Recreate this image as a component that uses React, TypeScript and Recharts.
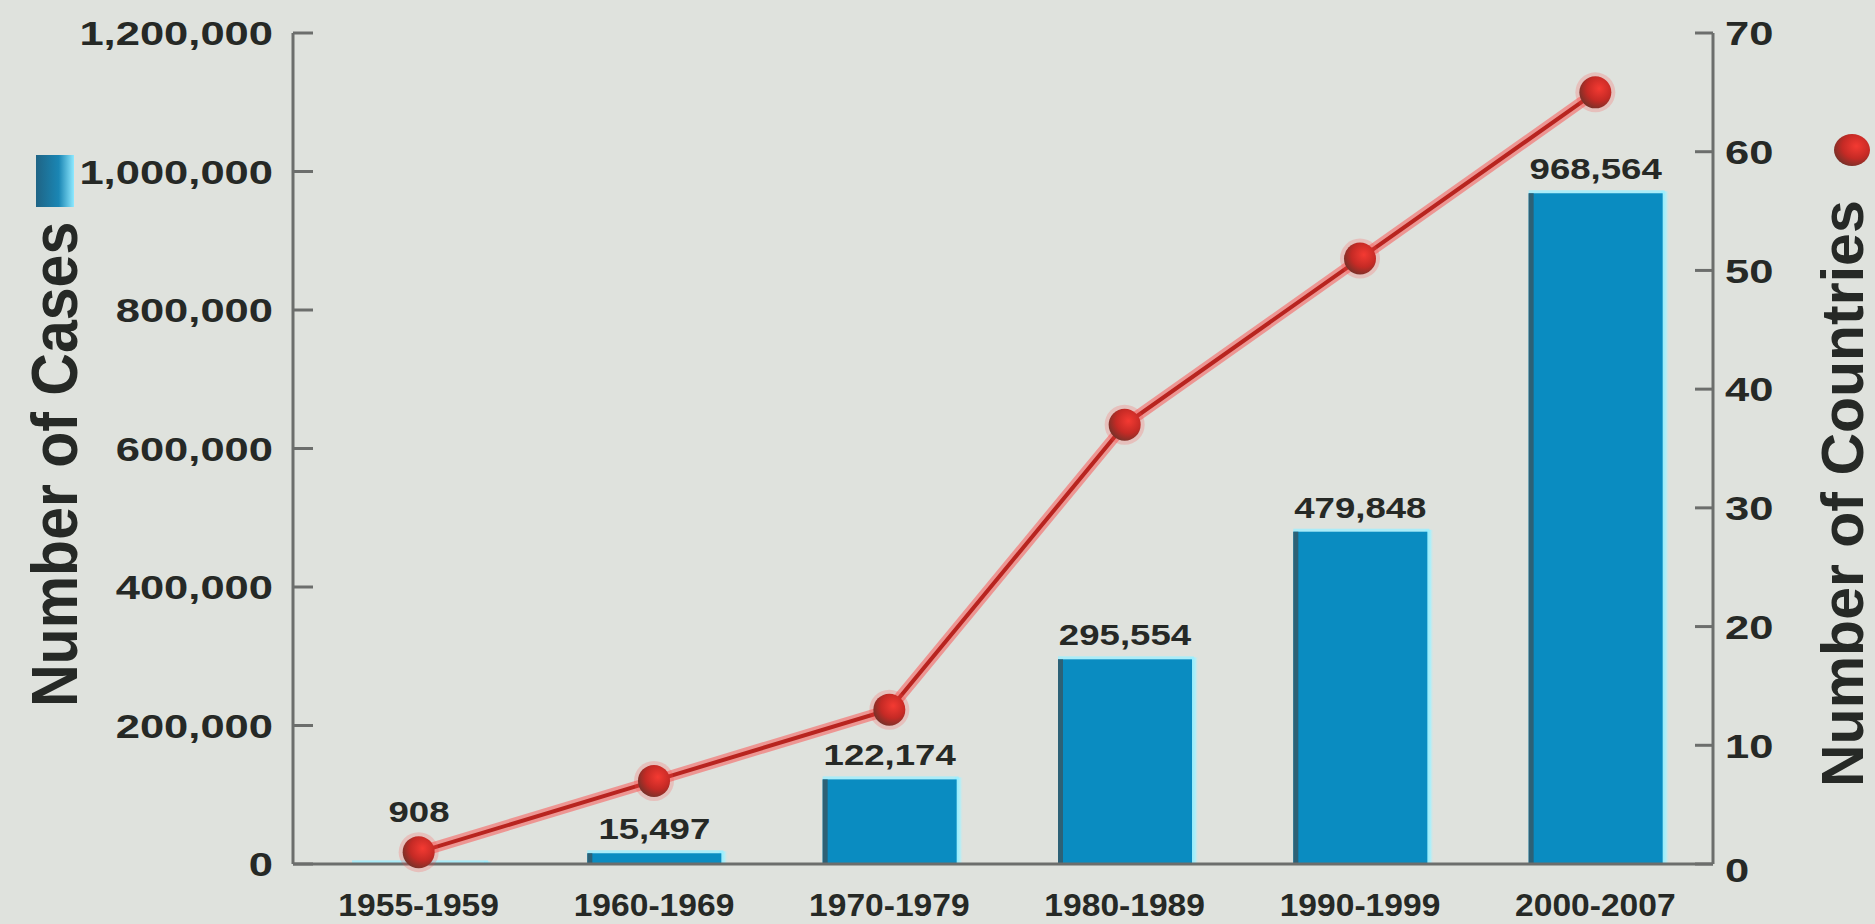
import {ComposedChart, Bar, Line, XAxis, YAxis, LabelList} from "recharts"

// values
const periods = ["1955-1959", "1960-1969", "1970-1979", "1980-1989", "1990-1999", "2000-2007"]
const cases = [908, 15497, 122174, 295554, 479848, 968564]
const countries = [1, 7, 13, 37, 51, 65]
const caseTicks = [0, 200000, 400000, 600000, 800000, 1000000, 1200000]
const countryTicks = [0, 10, 20, 30, 40, 50, 60, 70]

const data = periods.map((p, i) => ({period: p, cases: cases[i], countries: countries[i]}))

const INK = "#262926"
const AXIS = "#6c6e6c"
const FONT = '"Liberation Sans", Arial, Helvetica, sans-serif'

const fmt = (v: number) => String(v).replace(/\B(?=(\d{3})+(?!\d))/g, ",")

// the slide is stretched sideways, so text gets a horizontal scale
function Stretch({x, y, anchor, size, sx, children}: any) {
    return (
        <text transform={`translate(${x},${y + size * 0.36}) scale(${sx},1)`} textAnchor={anchor}
              fontFamily={FONT} fontWeight={700} fontSize={size} fill={INK}>
            {children}
        </text>
    )
}

const LeftTick = (p: any) => (
    <g>
        <line x1={p.x + 20} x2={p.x + 40} y1={p.y} y2={p.y} stroke={AXIS} strokeWidth={3}/>
        <Stretch x={p.x} y={p.y} anchor="end" size={34} sx={1.28}>{fmt(p.payload.value)}</Stretch>
    </g>
)

const RightTick = (p: any) => (
    <g>
        <line x1={p.x - 30} x2={p.x - 12} y1={p.y} y2={p.y} stroke={AXIS} strokeWidth={3}/>
        <Stretch x={p.x} y={p.y + (p.payload.value === 0 ? 6 : 0)} anchor="start" size={34} sx={1.28}>
            {p.payload.value}
        </Stretch>
    </g>
)

const BottomTick = (p: any) => (
    <Stretch x={p.x} y={p.y + 40} anchor="middle" size={32} sx={1.05}>{p.payload.value}</Stretch>
)

const CaseBar = (p: any) => {
    const {x, y, width, height} = p
    if (!height || height <= 0) return null
    return (
        <g>
            <rect x={x + width - 2} y={y - 2} width={9} height={height + 2} fill="url(#cyanEdge)"/>
            <rect x={x} y={y - 3} width={width + 2} height={4} fill="#9cefff" opacity={0.8}/>
            <rect x={x} y={y} width={width} height={height} fill="#0a8cc1"/>
            <rect x={x} y={y} width={5} height={height} fill="#2d6176"/>
        </g>
    )
}

const CaseLabel = (p: any) => {
    const {x, y, width, height, value} = p
    const cy = y - (height < 5 ? 52 : 25)
    return <Stretch x={x + width / 2} y={cy} anchor="middle" size={30} sx={1.22}>{fmt(value)}</Stretch>
}

const CountryDot = (p: any) => {
    const {cx, cy, index} = p
    return (
        <g key={"d" + index}>
            <circle cx={cx} cy={cy} r={20} fill="#ff4a4a" opacity={0.22}/>
            <circle cx={cx} cy={cy} r={16} fill="url(#dotGrad)"/>
        </g>
    )
}

const LeftTitle = (p: any) => {
    const vb = p.viewBox || {x: 0, y: 33, width: 293, height: 831}
    return (
        <g>
            <rect x={vb.x + 36} y={155} width={38} height={52} fill="url(#legendSq)"/>
            <text transform={`translate(${vb.x + 77},707) rotate(-90) scale(1,1.1)`} textAnchor="start"
                  fontFamily={FONT} fontWeight={700} fontSize={59} fill={INK}>Number of Cases</text>
        </g>
    )
}

const RightTitle = (p: any) => {
    const vb = p.viewBox || {x: 1713, y: 33, width: 162, height: 831}
    return (
        <g>
            <ellipse cx={vb.x + 139} cy={150} rx={18} ry={16} fill="url(#dotGrad)"/>
            <text transform={`translate(${vb.x + 150},787) rotate(-90)`} textAnchor="start"
                  fontFamily={FONT} fontWeight={700} fontSize={59} fill={INK}>Number of Countries</text>
        </g>
    )
}

export default function App() {
    return (
        <div style={{position: "absolute", left: 0, top: 0, width: 1875, height: 924, background: "#dfe2dd"}}>
            <ComposedChart width={1875} height={924} data={data} margin={{top: 33, right: 0, bottom: 0, left: 0}}>
                <defs>
                    <linearGradient id="cyanEdge" x1="0" y1="0" x2="1" y2="0">
                        <stop offset="0" stopColor="#7fe9ff"/>
                        <stop offset="0.6" stopColor="#a5f2ff" stopOpacity={0.8}/>
                        <stop offset="1" stopColor="#dfe2dd" stopOpacity={0}/>
                    </linearGradient>
                    <linearGradient id="legendSq" x1="0" y1="0" x2="1" y2="0">
                        <stop offset="0" stopColor="#1f6485"/>
                        <stop offset="0.6" stopColor="#1a86b4"/>
                        <stop offset="1" stopColor="#8ee9ff"/>
                    </linearGradient>
                    <radialGradient id="dotGrad" cx="0.62" cy="0.38" r="0.7">
                        <stop offset="0" stopColor="#f43a32"/>
                        <stop offset="0.55" stopColor="#c52a25"/>
                        <stop offset="1" stopColor="#6e3229"/>
                    </radialGradient>
                </defs>
                <XAxis dataKey="period" height={60} padding={{left: 8, right: 0}}
                       axisLine={{stroke: AXIS, strokeWidth: 3}} tickLine={false} tickSize={0} tickMargin={0}
                       tick={<BottomTick/>} interval={0}/>
                <YAxis yAxisId="cases" orientation="left" width={293} domain={[0, 1200000]} ticks={caseTicks}
                       axisLine={{stroke: AXIS, strokeWidth: 3}} tickLine={false} tickSize={0} tickMargin={20}
                       tick={<LeftTick/>} interval={0} label={{content: LeftTitle}}/>
                <YAxis yAxisId="countries" orientation="right" width={162} domain={[0, 70]} ticks={countryTicks}
                       axisLine={{stroke: AXIS, strokeWidth: 3}} tickLine={false} tickSize={0} tickMargin={12}
                       tick={<RightTick/>} interval={0} label={{content: RightTitle}}/>
                <Bar yAxisId="cases" dataKey="cases" barSize={134} shape={<CaseBar/>} isAnimationActive={false}>
                    <LabelList dataKey="cases" content={CaseLabel}/>
                </Bar>
                <Line yAxisId="countries" dataKey="countries" stroke="#ff3a3a" strokeOpacity={0.45} strokeWidth={11}
                      dot={false} activeDot={false} isAnimationActive={false}/>
                <Line yAxisId="countries" dataKey="countries" stroke="#b8241f" strokeWidth={4}
                      dot={<CountryDot/>} activeDot={false} isAnimationActive={false}/>
            </ComposedChart>
        </div>
    )
}
